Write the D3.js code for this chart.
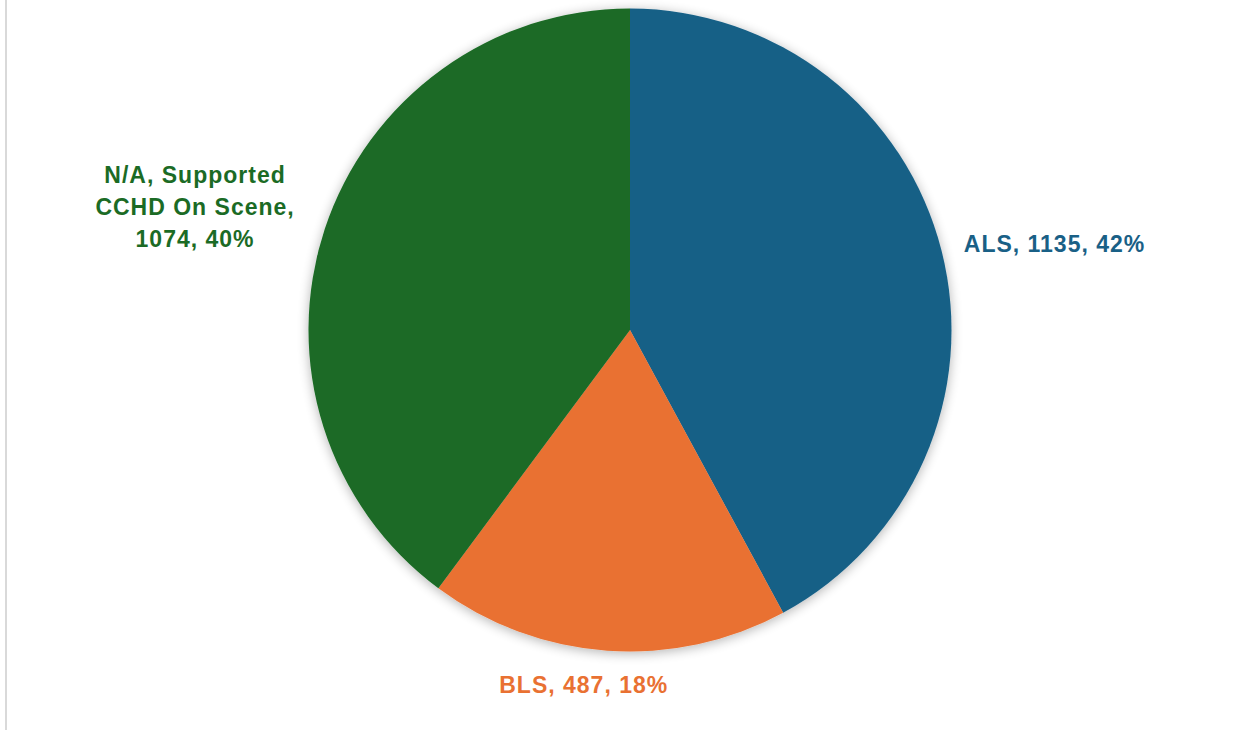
<!DOCTYPE html>
<html>
<head>
<meta charset="utf-8">
<script src="https://cdn.jsdelivr.net/npm/d3@7"></script>
<style>
    body { margin: 0; background: #fff; }
    svg { display: block; }
</style>
</head>
<body>
<svg width="1252" height="730"></svg>
<script>
// chart data
var categories = ["ALS", "BLS", "N/A, Supported CCHD On Scene"];
var counts = [1135, 487, 1074];
var percents = ["42%", "18%", "40%"];
var colors = ["#196086", "#E97132", "#1B6B25"];
// label text lines (Excel wraps the long one)
var labelLines = [
    ["ALS, 1135, 42%"],
    ["BLS, 487, 18%"],
    ["N/A, Supported", "CCHD On Scene,", "1074, 40%"]
];

function drawPie() {
    var svg = d3.select("svg");
    var cx = 630, cy = 330, R = 321.5;

    // frame line on the left
    svg.append("line")
        .attr("x1", 6).attr("x2", 6)
        .attr("y1", 0).attr("y2", 730)
        .attr("stroke", "#d9d9d9")
        .attr("stroke-width", 2);

    // soft shadow
    var defs = svg.append("defs");
    var f = defs.append("filter")
        .attr("id", "shadow")
        .attr("x", "-10%").attr("y", "-10%")
        .attr("width", "120%").attr("height", "120%");
    f.append("feGaussianBlur")
        .attr("in", "SourceAlpha")
        .attr("stdDeviation", 6);
    f.append("feOffset").attr("dx", 0).attr("dy", 2).attr("result", "b");
    f.append("feComponentTransfer").append("feFuncA")
        .attr("type", "linear").attr("slope", 0.3);
    var merge = f.append("feMerge");
    merge.append("feMergeNode");
    merge.append("feMergeNode").attr("in", "SourceGraphic");

    var data = categories.map(function(c, i) {
        return { name: c, value: counts[i], i: i };
    });

    var pie = d3.pie()
        .value(d => d.value)
        .sort(null);
    var arcs = pie(data);

    var arc = d3.arc().innerRadius(0).outerRadius(R);

    var g = svg.append("g")
        .attr("transform", `translate(${cx},${cy})`);

    g.append("g")
        .attr("filter", "url(#shadow)")
        .selectAll("path")
        .data(arcs)
        .enter()
        .append("path")
        .attr("d", arc)
        .attr("fill", d => colors[d.data.i]);

    // labels placed outside, along each slice's middle angle
    var labelRadius = [440, 356, 456];
    var nudge = [[-2, 22], [-21, 0], [-2, 20]];
    var lineH = 32;

    arcs.forEach(function(a) {
        var i = a.data.i;
        var la = d3.arc().innerRadius(labelRadius[i]).outerRadius(labelRadius[i]);
        var c = la.centroid(a);
        var lines = labelLines[i];
        var x = c[0] + nudge[i][0];
        var y = c[1] + nudge[i][1] - (lines.length - 1) * lineH / 2;
        var t = g.append("text")
            .attr("text-anchor", "middle")
            .attr("font-family", "Liberation Sans, Arial, sans-serif")
            .attr("font-weight", "bold")
            .attr("font-size", 23)
            .attr("letter-spacing", 1)
            .attr("fill", colors[i]);
        lines.forEach(function(l, k) {
            t.append("tspan")
                .attr("x", x)
                .attr("y", y + k * lineH)
                .attr("dy", "0.35em")
                .text(l);
        });
    });
}

drawPie();
</script>
</body>
</html>
